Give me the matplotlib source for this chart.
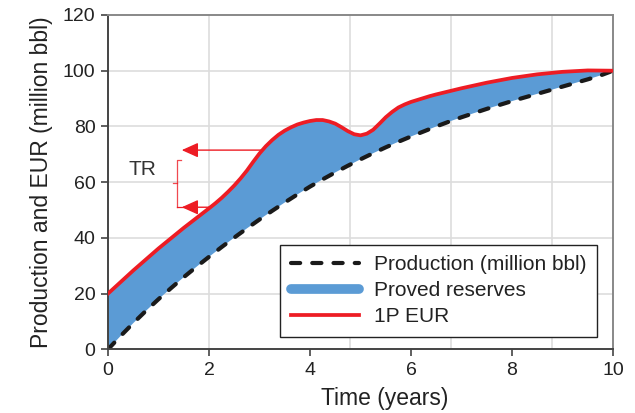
import matplotlib
matplotlib.use("Agg")
import matplotlib.pyplot as plt
from matplotlib.lines import Line2D

plt.rcParams["font.family"] = ["Liberation Sans", "DejaVu Sans"]

# time axis for production (years)
anos = [0, 0.25, 0.5, 0.75, 1, 1.25, 1.5, 1.75, 2, 2.25, 2.5, 2.75, 3, 3.25, 3.5, 3.75,
        4, 4.25, 4.5, 4.75, 5, 5.25, 5.5, 5.75, 6, 6.25, 6.5, 6.75, 7, 7.25, 7.5, 7.75,
        8, 8.25, 8.5, 8.75, 9, 9.25, 9.5, 9.75, 10]

# cumulative production (million bbl)
producao = [0, 4.8, 9.4, 13.8, 18, 22, 25.9, 29.6, 33.2, 36.7, 40.1, 43.4, 46.6, 49.7,
            52.7, 55.6, 58.4, 61.0, 63.5, 65.9, 68.2, 70.4, 72.5, 74.5, 76.4, 78.2, 80.0,
            81.7, 83.3, 84.8, 86.3, 87.7, 89.1, 90.4, 91.7, 93.0, 94.3, 95.6, 96.9, 98.3, 100]

# time axis for the 1P EUR (years)
anos_eur = [0, 0.5, 1, 1.5, 2, 2.125, 2.25, 2.375, 2.5, 2.625, 2.75, 2.875, 3, 3.125,
            3.25, 3.375, 3.5, 3.625, 3.75, 3.875, 4, 4.125, 4.25, 4.375, 4.5, 4.625,
            4.75, 4.875, 5, 5.125, 5.25, 5.375, 5.5, 5.625, 5.75, 5.875, 6, 6.125,
            6.25, 6.375, 6.5, 7, 7.5, 8, 8.5, 9, 9.5, 10]

# 1P EUR (million bbl)
eur = [20, 28.3, 36.2, 43.6, 50.6, 52.4, 54.35, 56.5, 58.8, 61.35, 64.15, 67.3, 70.3,
       72.9, 75.1, 77.0, 78.5, 79.7, 80.7, 81.4, 81.95, 82.3, 82.3, 81.8, 81.0, 79.7,
       78.3, 77.2, 76.8, 77.4, 78.8, 81.0, 83.3, 85.2, 86.8, 87.9, 88.8, 89.5,
       90.2, 90.9, 91.5, 93.7, 95.7, 97.4, 98.7, 99.6, 100.1, 100]

# the two TR arrows (EUR value, start on the curve, arrow tip)
tr_topo = 71.5
tr_base = 51.0
tr_x_inicio_topo = 3.05
tr_x_inicio_base = 2.04
tr_x_ponta = 1.46

azul = "#5b9bd5"
vermelho = "#ed1c24"

fig = plt.figure(figsize=(6.35, 4.13), dpi=100)
ax = fig.add_axes([0.1701, 0.1542, 0.7953, 0.8095])

# grid
for y in [20, 40, 60, 80, 100]:
    ax.axhline(y, color="#dddddd", lw=1.2, zorder=0)
for x in [2, 4.79, 6.79, 8.79]:
    ax.axvline(x, color="#dddddd", lw=1.2, zorder=0)

# proved reserves = area between the EUR and production curves
ax.fill(anos_eur + anos[::-1], eur + producao[::-1], color=azul, lw=0, zorder=1)
ax.plot(anos_eur, eur, color=vermelho, lw=2.7, zorder=3)
ax.plot(anos, producao, color="#1a1a1a", lw=3, dashes=(2.2, 2.9), zorder=2,
        dash_capstyle="round")

# TR arrows and bracket
for y, x0 in [(tr_topo, tr_x_inicio_topo), (tr_base, tr_x_inicio_base)]:
    ax.annotate("", xy=(tr_x_ponta, y), xytext=(x0, y),
                arrowprops=dict(arrowstyle="-|>,head_length=1.0,head_width=0.45",
                                color=vermelho, lw=1.0, shrinkA=0, shrinkB=0),
                zorder=4)
xb = 1.36
ax.plot([xb + 0.09, xb, xb], [68, 68, tr_base], color=vermelho, lw=0.9, alpha=0.8, zorder=4)
ax.plot([xb, tr_x_ponta + 0.25], [tr_base, tr_base], color=vermelho, lw=0.9, zorder=4)
ax.plot([xb - 0.07, xb], [59.8, 59.8], color=vermelho, lw=0.9, alpha=0.8, zorder=4)
ax.text(0.69, 64.4, "TR", fontsize=15, color="#333333", ha="center", va="center")

ax.set_xlim(0, 10)
ax.set_ylim(0, 120)
ax.set_xticks([0, 2, 4, 6, 8, 10])
ax.set_yticks([0, 20, 40, 60, 80, 100, 120])
ax.tick_params(direction="out", length=5, width=1.2, color="#444444",
               labelsize=14, labelcolor="#222222", pad=4)
for lado in ["left", "bottom"]:
    ax.spines[lado].set_color("#444444")
    ax.spines[lado].set_linewidth(1.4)
for lado in ["top", "right"]:
    ax.spines[lado].set_color("#888888")
    ax.spines[lado].set_linewidth(1.4)

ax.set_xlabel("Time (years)", fontsize=16.5, color="#222222")
ax.xaxis.set_label_coords(0.5475, -0.113)
ax.set_ylabel("Production and EUR (million bbl)", fontsize=16.5, color="#222222", labelpad=7)

# legend
h_prod = Line2D([], [], color="#1a1a1a", lw=3, dashes=(2.2, 2.9), dash_capstyle="round")
h_res = Line2D([], [], color=azul, lw=7, solid_capstyle="round")
h_eur = Line2D([], [], color=vermelho, lw=2.7)
leg = ax.legend([h_prod, h_res, h_eur],
                ["Production (million bbl)", "Proved reserves", "1P EUR"],
                loc="lower right", bbox_to_anchor=(0.968, 0.038), borderaxespad=0,
                fontsize=15, handlelength=3.3, handletextpad=0.7,
                labelspacing=0.33, borderpad=0.5, fancybox=False, framealpha=1)
leg.get_frame().set_edgecolor("#222222")
leg.get_frame().set_linewidth(1.0)
for t in leg.get_texts():
    t.set_color("#222222")

plt.savefig("out.png", dpi=100)
